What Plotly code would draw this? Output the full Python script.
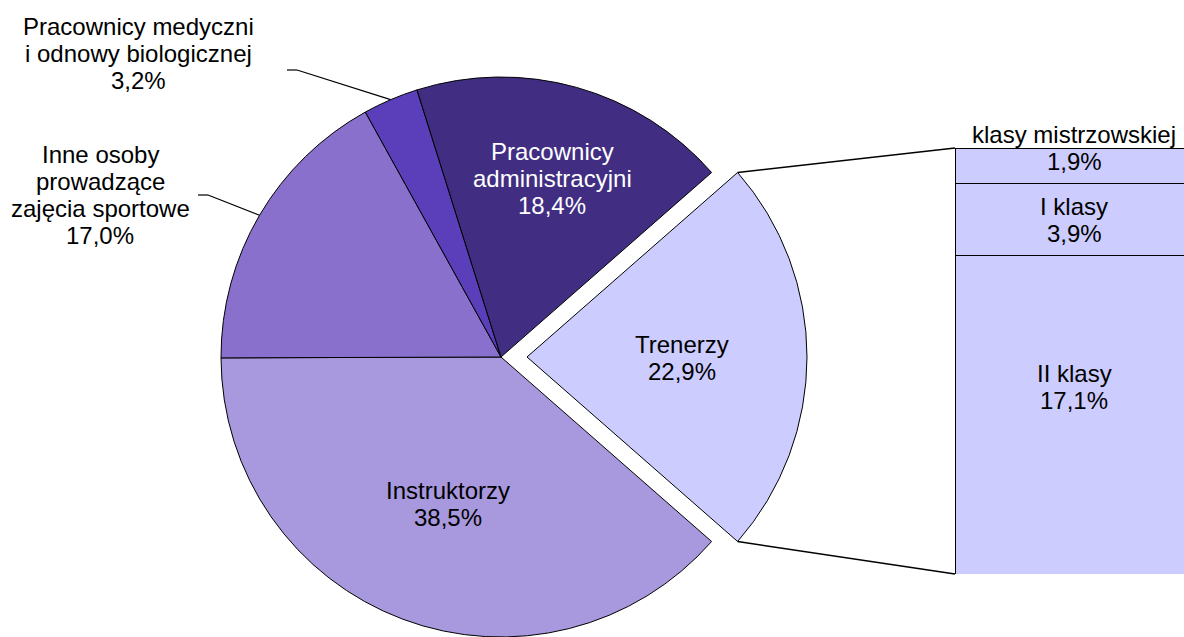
import math
import plotly.graph_objects as go

# ---------------- data ----------------
pie_labels = ["Trenerzy", "Instruktorzy", "Inne osoby prowadzące zajęcia sportowe",
              "Pracownicy medyczni i odnowy biologicznej", "Pracownicy administracyjni"]
pie_values = [22.9, 38.5, 17.0, 3.2, 18.4]
pie_label_lines = [["Trenerzy"], ["Instruktorzy"], ["Inne osoby", "prowadzące", "zajęcia sportowe"],
                   ["Pracownicy medyczni", "i odnowy biologicznej"], ["Pracownicy", "administracyjni"]]

bar_labels = ["II klasy", "I klasy", "klasy mistrzowskiej"]
bar_values = [17.1, 3.9, 1.9]
bar_label_lines = [["II klasy"], ["I klasy"], ["klasy mistrzowskiej"]]

# ---------------- styles / geometry ----------------
W, H = 1184, 637
pie_colors = ["#CCCCFF", "#A898DE", "#8870CC", "#5B3EBA", "#412E82"]
bar_color = "#CCCCFF"
text_colors_pie = ["black", "black", "black", "black", "white"]
FONT = "Liberation Sans, Arial, sans-serif"
FS = 24
LS = 26.8            # line spacing px
TRANSP = "rgba(0,0,0,0)"

CX, CY, R, PULL = 501, 357, 280, 26
BAR_X0, BAR_X1, BAR_TOP, BAR_BOT = 955, 1193, 148, 574

# label anchor: (center x, first baseline) in px
pie_label_pos = [(682, 353), (448, 499), (100, 163), (138, 35), (552, 160)]
bar_label_pos = [(1074, 382), (1074, 215), (1074, 143)]


def px(x):
    return x / W


def py(y):
    return 1 - y / H


def fmt(v):
    return f"{v:.1f}".replace(".", ",") + "%"


def dom(cx):
    return dict(x=[max(0, px(cx - R)), min(1, px(cx + R))],
                y=[max(0, py(CY + R)), min(1, py(CY - R))])


total = sum(pie_values)
rot = 90 - pie_values[0] / total * 180

fig = go.Figure()

# main pie (split slice hidden)
fig.add_trace(go.Pie(
    labels=pie_labels, values=pie_values, sort=False, direction="clockwise",
    rotation=rot, textinfo="none", hoverinfo="skip", showlegend=False,
    domain=dom(CX),
    marker=dict(colors=[TRANSP] + pie_colors[1:],
                line=dict(color="black", width=[0, 1, 1, 1, 1])),
))
# exploded slice
fig.add_trace(go.Pie(
    labels=pie_labels, values=pie_values, sort=False, direction="clockwise",
    rotation=rot, textinfo="none", hoverinfo="skip", showlegend=False,
    domain=dom(CX + PULL),
    marker=dict(colors=[pie_colors[0]] + [TRANSP] * 4,
                line=dict(color="black", width=[1, 0, 0, 0, 0])),
))

# stacked bar of the split slice
for lab, val in zip(bar_labels, bar_values):
    fig.add_trace(go.Bar(
        x=[0.5], y=[val], width=[1.0], name=lab, xaxis="x2", yaxis="y2",
        marker=dict(color=bar_color, line=dict(color="black", width=1)),
        hoverinfo="skip", showlegend=False,
    ))

bar_w_px = BAR_X1 - BAR_X0
fig.update_layout(
    width=W, height=H, margin=dict(l=0, r=0, t=0, b=0),
    paper_bgcolor="white", plot_bgcolor="rgba(0,0,0,0)",
    barmode="stack", bargap=0,
    xaxis=dict(visible=False), yaxis=dict(visible=False),
    xaxis2=dict(domain=[px(BAR_X0 - 1), 1], range=[-1 / bar_w_px, (W - BAR_X0) / bar_w_px],
                visible=False, anchor="y2", fixedrange=True),
    yaxis2=dict(domain=[py(BAR_BOT), py(BAR_TOP)], range=[0, sum(bar_values)],
                visible=False, anchor="x2", fixedrange=True),
    font=dict(family=FONT, size=FS, color="black"),
)

annotations = []


def add_label(lines, cx, base, color):
    for i, ln in enumerate(lines):
        annotations.append(dict(
            x=px(cx), y=py(base + i * LS - 0.3465 * FS), xref="paper", yref="paper",
            text=ln, showarrow=False, xanchor="center", yanchor="middle",
            font=dict(family=FONT, size=FS, color=color),
        ))


for lines, val, (lx, ly), col in zip(pie_label_lines, pie_values, pie_label_pos, text_colors_pie):
    add_label(lines + [fmt(val)], lx, ly, col)
for lines, val, (lx, ly) in zip(bar_label_lines, bar_values, bar_label_pos):
    add_label(lines + [fmt(val)], lx, ly, "black")

shapes = []


def line(x0, y0, x1, y1, w=1.2):
    shapes.append(dict(type="line", xref="paper", yref="paper",
                       x0=px(x0), y0=py(y0), x1=px(x1), y1=py(y1),
                       line=dict(color="black", width=w)))


# connector lines from exploded slice to bar
half = math.radians(pie_values[0] / total * 180)
ex = CX + PULL + R * math.cos(half)
line(ex, CY - R * math.sin(half), BAR_X0, BAR_TOP, 1.5)
line(ex, CY + R * math.sin(half), BAR_X0, BAR_BOT, 1.5)

# leader lines for outside labels
elbows = {3: (287, 297, 70), 2: (198, 208, 195)}
cum = 0
for i, v in enumerate(pie_values):
    if i in elbows:
        mid_cw = rot + (cum + v / 2) / total * 360
        th = math.radians(90 - mid_cw)
        ex2, ey2 = CX + R * math.cos(th), CY - R * math.sin(th)
        a, b, yy = elbows[i]
        line(a, yy, b, yy)
        line(b, yy, ex2, ey2)
    cum += v

fig.update_layout(annotations=annotations, shapes=shapes)
fig.write_html(
    "out.html",
    config={"displayModeBar": False, "staticPlot": True},
    post_script="document.body.style.margin='0';document.body.style.overflow='hidden';",
)
